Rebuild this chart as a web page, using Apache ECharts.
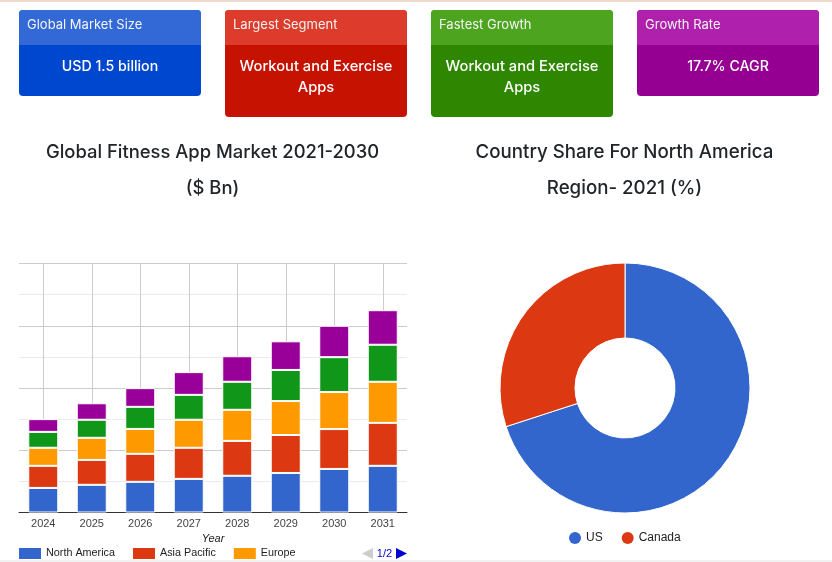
<!DOCTYPE html>
<html><head><meta charset="utf-8">
<style>html,body{margin:0;padding:0;background:#fff}#c{width:832px;height:562px}</style>
<script src="https://cdn.jsdelivr.net/npm/echarts@6/dist/echarts.min.js"></script>
</head><body><div id="c"></div>
<script>
const years = ['2024','2025','2026','2027','2028','2029','2030','2031'];
const northAmerica = [0.79,0.89,0.985,1.08,1.18,1.27,1.40,1.50];
const asiaPacific = [0.71,0.80,0.90,1.00,1.12,1.22,1.28,1.38];
const europe = [0.58,0.71,0.80,0.90,1.00,1.09,1.19,1.32];
const latinAmerica = [0.51,0.58,0.71,0.80,0.90,1.00,1.12,1.19];
const middleEast = [0.41,0.53,0.60,0.73,0.82,0.92,1.01,1.11];
const regionNames = ['North America','Asia Pacific','Europe','Latin America','Middle East'];
const regionColors = ['#3366cc','#dc3912','#ff9900','#109618','#990099'];
const countryNames = ['US','Canada'];
const countryShares = [70,30];
const cardHeads = ['Global Market Size','Largest Segment','Fastest Growth','Growth Rate'];
const cardBodies = ['USD 1.5 billion','Workout and Exercise\nApps','Workout and Exercise\nApps','17.7% CAGR'];
const cardBodyColors = ['#0047cf','#c61200','#2f8600','#950092'];
const cardHeadColors = ['#3369d6','#dd3b2b','#4da51f','#af20ac'];
const titleFont = 'Inter';
const regionValues = [northAmerica,asiaPacific,europe,latinAmerica,middleEast];

const cardX = [19,225,431,637];
const cardH = [86,107,107,86];
const cardTextY = [66.5,77,77,66.5];
const cardFontSize = [14.2,14.7,14.7,14.2];
const graphic = [];
cardHeads.forEach((h,i)=>{
  graphic.push({type:'rect',silent:true,shape:{x:cardX[i],y:10,width:182,height:cardH[i],r:4},style:{fill:cardBodyColors[i]}});
  graphic.push({type:'rect',silent:true,shape:{x:cardX[i],y:10,width:182,height:35,r:[4,4,0,0]},style:{fill:cardHeadColors[i]}});
  graphic.push({type:'text',silent:true,x:cardX[i]+8,y:25.5,style:{text:h,fill:'#f4f4f4',font:'400 13px '+titleFont,textVerticalAlign:'middle'}});
  graphic.push({type:'text',silent:true,x:cardX[i]+91,y:cardTextY[i],style:{text:cardBodies[i],fill:'#fff',font:'500 '+cardFontSize[i]+'px '+titleFont,align:'center',textAlign:'center',verticalAlign:'middle',textVerticalAlign:'middle',lineHeight:21}});
});
graphic.push({type:'rect',silent:true,shape:{x:0,y:0,width:832,height:2},style:{fill:'#efd9cf'}});
graphic.push({type:'rect',silent:true,shape:{x:0,y:560,width:832,height:2},style:{fill:'#f1f1f1'}});

const titleText = {color:'#212529',fontFamily:titleFont,fontWeight:500,lineHeight:36};
const chart = echarts.init(document.getElementById('c'));
chart.setOption({
  animation:false,
  backgroundColor:'#fff',
  title:[
    {text:'Global Fitness App Market 2021-2030\n($ Bn)',left:212.5,top:134,padding:0,textAlign:'center',textStyle:{...titleText,fontSize:18.4}},
    {text:'Country Share For North America\nRegion- 2021 (%)',left:624.5,top:134,padding:0,textAlign:'center',textStyle:{...titleText,fontSize:18.7}}
  ],
  graphic,
  grid:{left:19,right:425,top:263.5,bottom:49.5,containLabel:false},
  xAxis:{type:'category',data:years,name:'Year',nameLocation:'middle',nameGap:21,
    nameTextStyle:{fontFamily:'Liberation Sans',fontSize:11,fontStyle:'italic',color:'#222'},
    axisTick:{show:false},axisLine:{lineStyle:{color:'#333',width:1}},
    axisLabel:{fontFamily:'Liberation Sans',fontSize:11,color:'#444',margin:6},
    splitLine:{show:true,alignWithLabel:true,lineStyle:{color:'#ccc',width:1}}},
  yAxis:{type:'value',min:0,max:8,interval:2,axisLabel:{show:false},axisLine:{show:false},axisTick:{show:false},
    splitLine:{lineStyle:{color:'#ccc',width:1}},
    minorTick:{show:false,splitNumber:2},
    minorSplitLine:{show:true,lineStyle:{color:'#ebebeb',width:1}}},
  legend:[
    {type:'scroll',data:regionNames,left:19,top:548,width:388,padding:0,itemWidth:22,itemHeight:11,itemGap:18,icon:'rect',
     itemStyle:{borderWidth:0},
     textStyle:{fontFamily:'Liberation Sans',fontSize:10.8,color:'#222'},
     pageButtonGap:57,pageButtonItemGap:-1,
     pageIconColor:'#0000cc',pageIconInactiveColor:'#ccc',pageIconSize:11,
     pageIcons:{horizontal:['path://M10,0L0,5L10,10Z','path://M0,0L10,5L0,10Z']},
     pageTextStyle:{color:'#0000cc',fontFamily:'Liberation Sans',fontSize:11},selectedMode:false},
    {data:countryNames,left:569,top:532,padding:0,itemWidth:12,itemHeight:12,itemGap:19,icon:'circle',
     itemStyle:{borderWidth:0},
     textStyle:{fontFamily:'Liberation Sans',fontSize:12,color:'#222'},selectedMode:false}
  ],
  series:[
    ...regionNames.map((n,i)=>({type:'bar',name:n,stack:'total',data:regionValues[i],barWidth:30,
      itemStyle:{color:regionColors[i],borderColor:'#fff',borderWidth:1}})),
    {type:'pie',name:'Country share',center:[625,388],radius:[50,125],startAngle:90,clockwise:true,
      label:{show:false},labelLine:{show:false},silent:true,
      data:countryNames.map((n,i)=>({name:n,value:countryShares[i],itemStyle:{color:regionColors[i],borderColor:'#fff',borderWidth:1}}))}
  ]
});
</script></body></html>
